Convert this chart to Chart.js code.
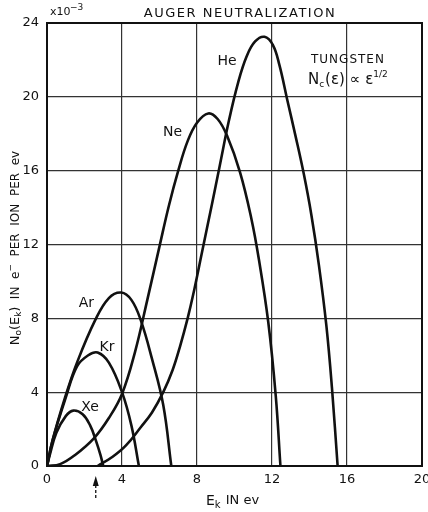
<!DOCTYPE html>
<html>
<head>
<meta charset="utf-8">
<script src="https://cdn.jsdelivr.net/npm/chart.js@4/dist/chart.umd.min.js"></script>
<style>
  html, body { margin: 0; padding: 0; background: #fff; }
  #wrap { width: 428px; height: 512px; }
</style>
</head>
<body>
<div id="wrap"><canvas id="c" width="428" height="512"></canvas></div>
<script>
// Kinetic energy E_k (eV) and electron yield N0(E_k) (x10^-3 per ion per eV)
const heE = [2.7, 3.5, 4.2, 5.0, 5.6, 6.2, 6.7, 7.1, 7.5, 7.8, 8.25, 8.8, 9.2, 9.7, 10.2, 10.65, 11.1, 11.6, 12.05, 12.4, 12.8, 13.25, 13.7, 14.1, 14.5, 14.9, 15.2, 15.5];
const heN = [0, 0.5, 1.1, 2.1, 2.9, 4.0, 5.2, 6.5, 8.0, 9.3, 11.5, 14.2, 16.2, 18.7, 20.8, 22.2, 23.0, 23.25, 22.8, 21.7, 19.9, 17.9, 15.8, 13.6, 10.9, 7.6, 4.2, 0];

const neE = [0, 0.7, 1.5, 2.5, 3.3, 4.0, 4.7, 5.35, 6.0, 6.5, 7.0, 7.5, 8.0, 8.6, 9.1, 9.6, 10.3, 10.9, 11.3, 11.8, 12.2, 12.45];
const neN = [0, 0.1, 0.6, 1.5, 2.6, 3.9, 6.2, 9.0, 11.9, 14.1, 16.0, 17.6, 18.6, 19.1, 18.8, 17.9, 15.9, 13.4, 11.2, 7.8, 3.8, 0];

const arE = [0, 0.3, 0.96, 1.6, 2.57, 3.3, 3.96, 4.5, 5.0, 5.6, 6.2, 6.63];
const arN = [0, 1.4, 3.7, 5.6, 7.9, 9.1, 9.4, 9.0, 7.9, 5.8, 3.3, 0];

const krE = [0, 0.3, 1.0, 1.6, 2.2, 2.7, 3.3, 4.0, 4.5, 4.9];
const krN = [0, 1.4, 3.7, 5.4, 6.0, 6.15, 5.6, 4.0, 2.2, 0];

const xeE = [0, 0.15, 0.5, 1.0, 1.4, 1.9, 2.3, 2.6, 2.85, 3.0];
const xeN = [0, 0.6, 1.8, 2.7, 3.0, 2.8, 2.2, 1.4, 0.6, 0];

const xTicks = [0, 4, 8, 12, 16, 20];
const yTicks = [0, 4, 8, 12, 16, 20, 24];

const gasNames = ['He', 'Ne', 'Ar', 'Kr', 'Xe'];
const gasE = [heE, neE, arE, krE, xeE];
const gasN = [heN, neN, arN, krN, xeN];
// label anchor for each curve name, in data units
const nameAtE = [9.6, 6.7, 2.1, 3.2, 2.3];
const nameAtN = [21.9, 18.1, 8.8, 6.45, 3.2];

const thresholdE = 2.6;   // arrow under the axis

const FONT = '"DejaVu Sans", "Liberation Sans", sans-serif';

function pts(xs, ys) { return xs.map((x, i) => ({ x: x, y: ys[i] })); }

const datasets = gasNames.map((name, i) => ({
  label: name,
  data: pts(gasE[i], gasN[i]),
  borderColor: '#111',
  borderWidth: 2.6,
  pointRadius: 0,
  fill: false,
  tension: 0.4
}));

const annotate = {
  id: 'annotate',
  afterDraw(chart) {
    const ctx = chart.ctx;
    const xs = chart.scales.x, ys = chart.scales.y;
    const a = chart.chartArea;
    ctx.save();
    // frame
    ctx.strokeStyle = '#111';
    ctx.lineWidth = 2;
    ctx.strokeRect(a.left, a.top, a.right - a.left, a.bottom - a.top);

    ctx.fillStyle = '#111';
    ctx.textBaseline = 'middle';

    // heading
    ctx.font = '13px ' + FONT;
    ctx.textAlign = 'center';
    ctx.letterSpacing = '1.5px';
    ctx.fillText('AUGER NEUTRALIZATION', 240, 14);
    ctx.letterSpacing = '0px';

    // exponent marker
    ctx.textAlign = 'left';
    ctx.font = '11px ' + FONT;
    ctx.fillText('x10', 50, 12);
    ctx.font = '9px ' + FONT;
    ctx.fillText('\u22123', 70, 8);

    // curve names
    ctx.font = '14px ' + FONT;
    ctx.textAlign = 'center';
    gasNames.forEach((n, i) => {
      ctx.fillText(n, xs.getPixelForValue(nameAtE[i]), ys.getPixelForValue(nameAtN[i]));
    });

    // metal note
    const cx = xs.getPixelForValue(16.05);
    ctx.font = '12px ' + FONT;
    ctx.letterSpacing = '1px';
    ctx.fillText('TUNGSTEN', cx, ys.getPixelForValue(22.0));
    ctx.letterSpacing = '0px';
    let y2 = ys.getPixelForValue(20.9);
    ctx.textAlign = 'left';
    let x0 = cx - 40;
    ctx.font = '15px ' + FONT;
    ctx.fillText('N', x0, y2);
    x0 += ctx.measureText('N').width;
    ctx.font = '9px ' + FONT;
    ctx.fillText('c', x0, y2 + 4);
    x0 += ctx.measureText('c').width + 1;
    ctx.font = '15px ' + FONT;
    const mid = '(\u03b5) \u221d \u03b5';
    ctx.fillText(mid, x0, y2);
    x0 += ctx.measureText(mid).width;
    ctx.font = '9px ' + FONT;
    ctx.fillText('1/2', x0, y2 - 6);

    // x axis title: E_k IN ev
    const xt = 501;
    ctx.font = '14px ' + FONT;
    let w1 = ctx.measureText('E').width;
    ctx.font = '10px ' + FONT;
    let w2 = ctx.measureText('k').width;
    ctx.font = '13px ' + FONT;
    let w3 = ctx.measureText(' IN ev').width;
    let sx = 232 - (w1 + w2 + w3) / 2;
    ctx.font = '14px ' + FONT;
    ctx.fillText('E', sx, xt);
    ctx.font = '10px ' + FONT;
    ctx.fillText('k', sx + w1, xt + 4);
    ctx.font = '13px ' + FONT;
    ctx.fillText(' IN ev', sx + w1 + w2 + 1, xt);

    // y axis title, rotated
    ctx.save();
    ctx.translate(16, 248);
    ctx.rotate(-Math.PI / 2);
    const parts = [
      ['N', 13, 0], ['o', 9, 3], ['(E', 13, 0], ['k', 9, 3], [')  IN  e', 12, 0], ['\u2212', 9, -5], ['  PER  ION  PER  ev', 12, 0]
    ];
    let tot = 0;
    parts.forEach(p => { ctx.font = p[1] + 'px ' + FONT; tot += ctx.measureText(p[0]).width; });
    let px = -tot / 2;
    parts.forEach(p => {
      ctx.font = p[1] + 'px ' + FONT;
      ctx.fillText(p[0], px, p[2]);
      px += ctx.measureText(p[0]).width;
    });
    ctx.restore();

    // threshold arrow under the axis
    const ax = xs.getPixelForValue(thresholdE);
    ctx.strokeStyle = '#111';
    ctx.lineWidth = 1.3;
    ctx.setLineDash([3, 2]);
    ctx.beginPath();
    ctx.moveTo(ax, 498);
    ctx.lineTo(ax, 482);
    ctx.stroke();
    ctx.setLineDash([]);
    ctx.beginPath();
    ctx.moveTo(ax, 476);
    ctx.lineTo(ax - 3, 486);
    ctx.lineTo(ax + 3, 486);
    ctx.closePath();
    ctx.fill();

    ctx.restore();
  }
};

new Chart(document.getElementById('c'), {
  type: 'line',
  data: { datasets: datasets },
  options: {
    responsive: false,
    animation: false,
    layout: { padding: { left: 0, right: 0, top: 23, bottom: 0 } },
    plugins: { legend: { display: false }, tooltip: { enabled: false }, title: { display: false } },
    scales: {
      x: {
        type: 'linear', min: 0, max: 20,
        afterBuildTicks: s => { s.ticks = xTicks.map(v => ({ value: v })); },
        afterFit: s => { s.height = 46; s.paddingLeft = 0; s.paddingRight = 6; },
        grid: { color: '#333', lineWidth: 1.2, drawTicks: false },
        border: { display: false },
        ticks: { color: '#111', font: { family: FONT, size: 13 }, padding: 6, maxRotation: 0 }
      },
      y: {
        type: 'linear', min: 0, max: 24,
        afterBuildTicks: s => { s.ticks = yTicks.map(v => ({ value: v })); },
        afterFit: s => { s.width = 47; s.paddingTop = 0; s.paddingBottom = 0; },
        grid: { color: '#333', lineWidth: 1.2, drawTicks: false },
        border: { display: false },
        ticks: { color: '#111', font: { family: FONT, size: 13 }, padding: 8 }
      }
    }
  },
  plugins: [annotate]
});
</script>
</body>
</html>
